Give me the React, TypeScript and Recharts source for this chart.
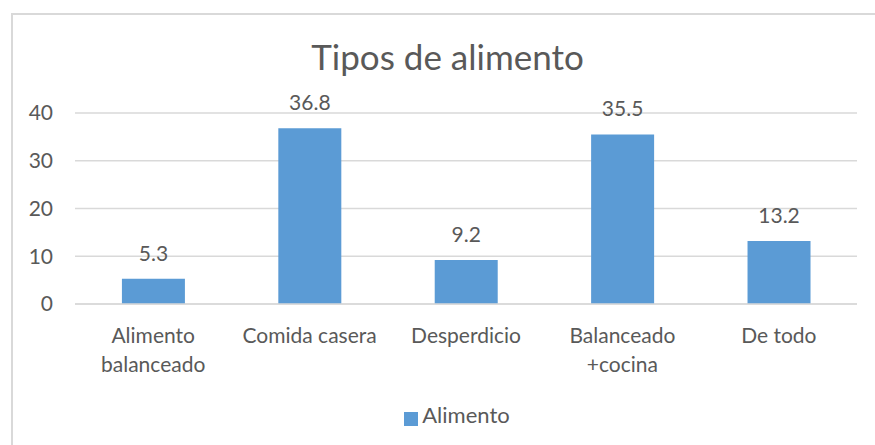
import { BarChart, Bar, XAxis, YAxis, CartesianGrid, Legend, LabelList } from "recharts";

const categories = ["Alimento\nbalanceado", "Comida casera", "Desperdicio", "Balanceado\n+cocina", "De todo"];
const alimento = [5.3, 36.8, 9.2, 35.5, 13.2];
const yTicks = [0, 10, 20, 30, 40];

const data = categories.map((name, i) => ({ name, Alimento: alimento[i] }));

const FONT = "Lato, 'Open Sans', sans-serif";
const TEXT = "#595959";

// category labels break where the "\n" is, like the wrapped Excel labels
function CategoryTick(props: any) {
  const { x, y, payload } = props;
  const lines = String(payload.value).split("\n");
  return (
    <text x={x} y={y} textAnchor="middle" fill={TEXT} fontSize={21} fontFamily={FONT}>
      {lines.map((l, i) => (
        <tspan key={i} x={x} dy={i === 0 ? 39 : 29}>
          {l}
        </tspan>
      ))}
    </text>
  );
}

export default function App() {
  return (
    <div
      style={{
        position: "fixed",
        left: 0,
        top: 0,
        width: 875,
        height: 445,
        overflow: "hidden",
        background: "#fff",
      }}
    >
      <div
        style={{
          position: "absolute",
          left: 11,
          top: 13,
          width: 1000,
          height: 1000,
          borderLeft: "2px solid #d9d9d9",
          borderTop: "2px solid #d9d9d9",
        }}
      />
      <div
        style={{
          position: "absolute",
          left: 8,
          width: 879,
          top: 36,
          textAlign: "center",
          fontFamily: FONT,
          fontSize: 35,
          color: TEXT,
          lineHeight: "40px",
        }}
      >
        Tipos de alimento
      </div>
      <div style={{ position: "absolute", left: 8, top: 8 }}>
        <BarChart
          width={867}
          height={437}
          data={data}
          margin={{ top: 105, right: 18, left: 0, bottom: 17 }}
          barCategoryGap="30%"
        >
          <CartesianGrid vertical={false} stroke="#d9d9d9" strokeWidth={1.5} />
          <XAxis
            dataKey="name"
            tick={<CategoryTick />}
            tickLine={false}
            tickSize={0}
            tickMargin={0}
            axisLine={{ stroke: "#d9d9d9", strokeWidth: 1.5 }}
            interval={0}
            height={97}
          />
          <YAxis
            domain={[0, 40]}
            ticks={yTicks}
            width={67}
            axisLine={false}
            tickLine={false}
            tickSize={0}
            tickMargin={22}
            tick={{ fill: TEXT, fontSize: 21, fontFamily: FONT }}
          />
          <Legend
            iconType="square"
            iconSize={14}
            wrapperStyle={{ left: 50, width: 808 }}
            formatter={(value) => (
              <span style={{ color: TEXT, fontSize: 22, fontFamily: FONT }}>{value}</span>
            )}
          />
          <Bar dataKey="Alimento" fill="#5b9bd5" isAnimationActive={false}>
            <LabelList
              dataKey="Alimento"
              position="top"
              offset={18}
              fill={TEXT}
              fontSize={21}
              fontFamily={FONT}
            />
          </Bar>
        </BarChart>
      </div>
    </div>
  );
}
